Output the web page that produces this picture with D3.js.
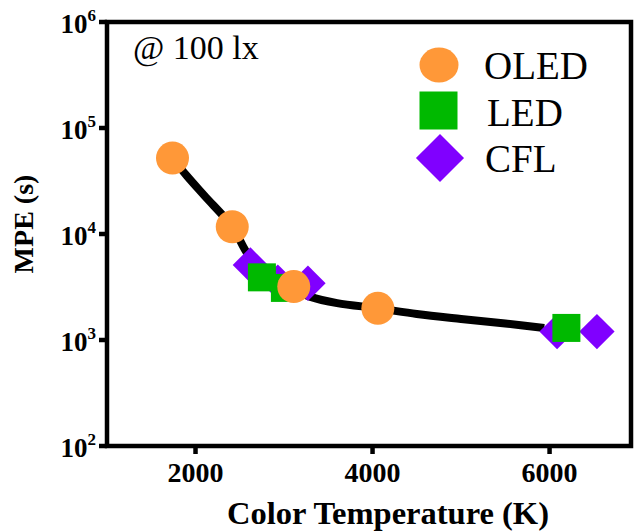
<!DOCTYPE html>
<html>
<head>
<meta charset="utf-8">
<script src="https://cdn.jsdelivr.net/npm/d3@7"></script>
<style>
  body { margin: 0; background: #fff; }
  svg { display: block; font-family: "Liberation Serif", "Times New Roman", serif; }
</style>
</head>
<body>
<svg width="636" height="532"></svg>
<script>
// data
var oledTemp = [1740, 2415, 3110, 4060],
    oledMPE  = [52000, 11700, 3190, 1990];
var ledTemp = [2750, 3010, 6190],
    ledMPE  = [3900, 3100, 1300];
var cflTemp = [2620, 2930, 3270, 6085, 6535],
    cflMPE  = [5100, 3520, 3430, 1200, 1200];
// fitted curve, points
var fitTemp = [1740, 1900, 2100, 2415, 2600, 2800, 3000, 3300, 3600, 4060, 4500, 5000, 5500, 5940],
    fitMPE  = [52000, 35500, 23000, 11700, 6300, 4400, 3300, 2550, 2230, 1990, 1760, 1580, 1430, 1300];
var xTicks = [2000, 4000, 6000],
    yTicks = [1e2, 1e3, 1e4, 1e5, 1e6];
var legendNames = ["OLED", "LED", "CFL"];

var svg = d3.select("svg"),
    pLeft = 107, pRight = 631, pTop = 22, pBottom = 446;

var x = d3.scaleLinear().domain([1000, 6920]).range([pLeft, pRight]);
var y = d3.scaleLog().domain([1e2, 1e6]).range([pBottom, pTop]);

var colors = {OLED: "#ff9838", LED: "#00b900", CFL: "#8000ff"};

// fitted line
var linef = d3.line()
    .x(d => x(d[0]))
    .y(d => y(d[1]))
    .curve(d3.curveCatmullRom.alpha(0.5));

svg.append("path")
    .datum(d3.zip(fitTemp, fitMPE))
    .attr("d", linef)
    .attr("fill", "none")
    .attr("stroke", "#000")
    .attr("stroke-width", 8);

// markers: CFL under LED under OLED
var g = svg.append("g");

g.selectAll(".cfl").data(d3.zip(cflTemp, cflMPE)).enter().append("rect")
    .attr("class", "cfl")
    .attr("x", -12.5).attr("y", -12.5)
    .attr("width", 25).attr("height", 25)
    .attr("fill", colors.CFL)
    .attr("transform", d => "translate(" + x(d[0]) + "," + y(d[1]) + ") rotate(45)");

g.selectAll(".led").data(d3.zip(ledTemp, ledMPE)).enter().append("rect")
    .attr("class", "led")
    .attr("x", d => x(d[0]) - 14).attr("y", d => y(d[1]) - 14)
    .attr("width", 28).attr("height", 28)
    .attr("fill", colors.LED);

g.selectAll(".oled").data(d3.zip(oledTemp, oledMPE)).enter().append("circle")
    .attr("class", "oled")
    .attr("cx", d => x(d[0])).attr("cy", d => y(d[1]))
    .attr("r", 16.5)
    .attr("fill", colors.OLED);

// axes frame
var ax = svg.append("g").attr("stroke", "#000").attr("stroke-width", 4.5);
ax.append("rect")
    .attr("x", pLeft).attr("y", pTop)
    .attr("width", pRight - pLeft).attr("height", pBottom - pTop)
    .attr("fill", "none");

ax.selectAll(".yt").data(yTicks).enter().append("line")
    .attr("x1", pLeft - 8).attr("x2", pLeft)
    .attr("y1", d => y(d)).attr("y2", d => y(d));

ax.selectAll(".xt").data(xTicks).enter().append("line")
    .attr("x1", d => x(d)).attr("x2", d => x(d))
    .attr("y1", pBottom).attr("y2", pBottom + 8);

// y tick labels 10^n
var yl = svg.selectAll(".ylab").data(yTicks).enter().append("text")
    .attr("x", 96)
    .attr("y", d => y(d) + 11)
    .attr("text-anchor", "end")
    .attr("font-weight", "bold")
    .attr("font-size", 27);
yl.append("tspan").text("10");
yl.append("tspan")
    .attr("font-size", 17)
    .attr("dy", -12)
    .text(d => Math.round(Math.log10(d)));

// x tick labels
svg.selectAll(".xlab").data(xTicks).enter().append("text")
    .attr("x", d => x(d))
    .attr("y", 482)
    .attr("text-anchor", "middle")
    .attr("font-weight", "bold")
    .attr("font-size", 28)
    .text(d => d);

// axis titles
svg.append("text")
    .attr("x", 388).attr("y", 524)
    .attr("text-anchor", "middle")
    .attr("font-weight", "bold")
    .attr("font-size", 32.5)
    .text("Color Temperature (K)");

svg.append("text")
    .attr("transform", "translate(33,224) rotate(-90)")
    .attr("text-anchor", "middle")
    .attr("font-weight", "bold")
    .attr("font-size", 28)
    .text("MPE (s)");

svg.append("text")
    .attr("x", 133).attr("y", 59)
    .attr("font-size", 34)
    .text("@ 100 lx");

// legend
var leg = svg.append("g");
leg.append("ellipse").attr("cx", 439).attr("cy", 65).attr("rx", 19.5).attr("ry", 17.5)
    .attr("fill", colors.OLED);
leg.append("rect").attr("x", 419.5).attr("y", 91.5).attr("width", 38).attr("height", 38)
    .attr("fill", colors.LED);
leg.append("rect").attr("x", -17).attr("y", -17).attr("width", 34).attr("height", 34)
    .attr("transform", "translate(440,158) rotate(45)")
    .attr("fill", colors.CFL);

leg.selectAll(".lt").data(legendNames).enter().append("text")
    .attr("x", (d, i) => [484, 487, 485][i])
    .attr("y", (d, i) => 79 + i * 46.5)
    .attr("font-size", 39)
    .text(d => d);
</script>
</body>
</html>
